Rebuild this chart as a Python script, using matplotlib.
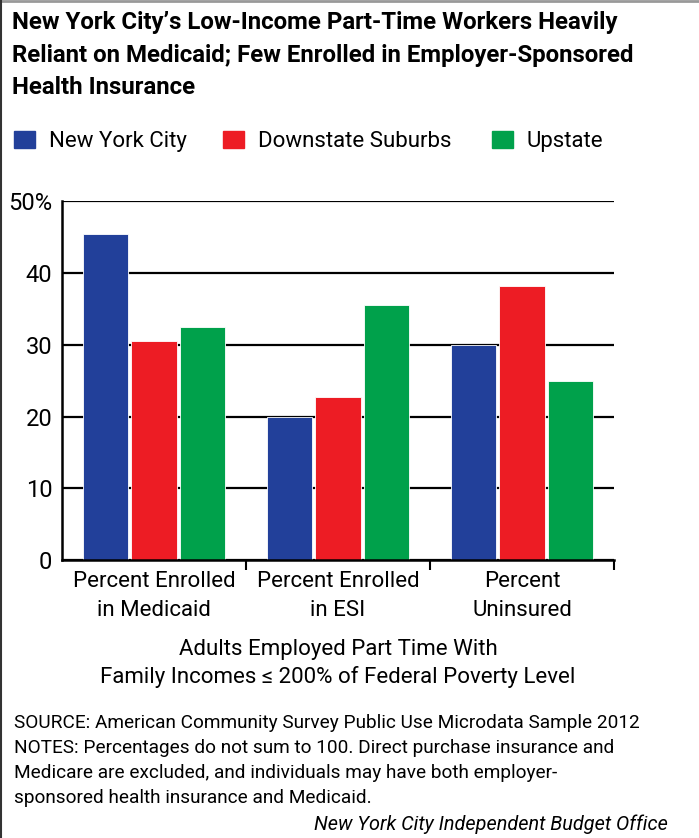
import matplotlib
matplotlib.use('Agg')
import matplotlib.pyplot as plt
import numpy as np
from matplotlib.lines import Line2D
from matplotlib.patches import Rectangle

plt.rcParams['font.family'] = ['Roboto', 'DejaVu Sans']

# data
categories = ['Percent Enrolled\nin Medicaid', 'Percent Enrolled\nin ESI', 'Percent\nUninsured']
regions = ['New York City', 'Downstate Suburbs', 'Upstate']
nyc = [45.5, 20.0, 30.0]
suburbs = [30.5, 22.7, 38.2]
upstate = [32.5, 35.5, 25.0]
colors = ['#22409A', '#ED1C24', '#00A14B']
yticks = [0, 10, 20, 30, 40, 50]
ytick_labels = ['0', '10', '20', '30', '40', '50%']

title_lines = ['New York City\u2019s Low-Income Part-Time Workers Heavily',
               'Reliant on Medicaid; Few Enrolled in Employer-Sponsored',
               'Health Insurance']
xlabel_lines = ['Adults Employed Part Time With',
                'Family Incomes \u2264 200% of Federal Poverty Level']
note_lines = ['SOURCE: American Community Survey Public Use Microdata Sample 2012',
              'NOTES: Percentages do not sum to 100. Direct purchase insurance and',
              'Medicare are excluded, and individuals may have both employer-',
              'sponsored health insurance and Medicaid.']
credit = 'New York City Independent Budget Office'

W, H = 699, 838
fig = plt.figure(figsize=(W / 100, H / 100), dpi=100)


def px(x, y):
    # pixel position (from top-left) -> figure fraction
    return x / W, 1 - y / H


# plot area in pixel terms
left, right, top, bottom = 62, 614, 201.5, 560
ax = fig.add_axes([left / W, 1 - bottom / H, (right - left) / W, (bottom - top) / H])

x = np.arange(len(categories))
bar_w = 0.245
step = 0.266
for i, (vals, name) in enumerate(zip([nyc, suburbs, upstate], regions)):
    ax.bar(x + (i - 1) * step, vals, width=bar_w, color=colors[i],
           edgecolor='white', linewidth=0.6, zorder=3, label=name)

ax.set_xlim(-0.5, 2.5)
ax.set_ylim(0, 50)
ax.set_yticks(yticks)
ax.set_yticklabels(ytick_labels, fontsize=17)
ax.tick_params(axis='y', length=0, pad=7)
ax.set_xticks(x)
ax.set_xticklabels(categories, fontsize=16, linespacing=1.5)
ax.tick_params(axis='x', which='major', length=0, pad=8)
ax.set_xticks([0.5, 1.5, 2.5], minor=True)
ax.tick_params(axis='x', which='minor', length=7, width=1.5, direction='out')

ax.grid(axis='y', color='black', linewidth=1.6, zorder=0)
ax.set_axisbelow(True)
for s in ['top', 'right']:
    ax.spines[s].set_visible(False)
for s in ['left', 'bottom']:
    ax.spines[s].set_linewidth(1.8)
    ax.spines[s].set_zorder(4)

# title, one line at a time on fixed baselines
for line, base in zip(title_lines, [29, 62, 93.5]):
    fig.text(*px(12, base), line, fontsize=17.3, fontweight='bold',
             va='baseline', ha='left')

# legend
leg_x = [14, 223, 492]
for lx, name, c in zip(leg_x, regions, colors):
    fig.patches.append(Rectangle(px(lx, 148.5), 21 / W, 17 / H,
                                 transform=fig.transFigure, color=c))
    fig.text(*px(lx + 35, 147), name, fontsize=16, va='baseline', ha='left')

# x axis title
for line, base in zip(xlabel_lines, [655, 683]):
    fig.text(*px(338, base), line, fontsize=16, ha='center', va='baseline')

# source and notes
for line, base in zip(note_lines, [728, 753, 778, 803]):
    fig.text(*px(14, base), line, fontsize=13.7, ha='left', va='baseline')
fig.text(*px(668, 830), credit, fontsize=14.3, style='italic',
         ha='right', va='baseline')

# frame on top and left edges
fig.lines.append(Line2D([0, 1], [1 - 1 / H, 1 - 1 / H], transform=fig.transFigure,
                        color='#999999', linewidth=2))
fig.lines.append(Line2D([1 / W, 1 / W], [0, 1], transform=fig.transFigure,
                        color='#333333', linewidth=1.5))

fig.savefig('out.png', dpi=100)
